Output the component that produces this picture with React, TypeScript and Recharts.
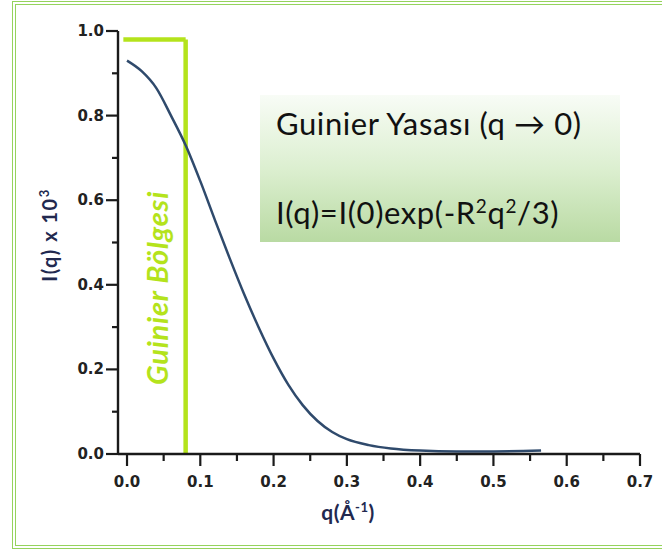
import { ComposedChart, Line, XAxis, YAxis, ReferenceLine } from "recharts";

// scattering curve I(q), read point by point
const Q_VALUES = [0, 0.02, 0.04, 0.06, 0.08, 0.1, 0.12, 0.14, 0.16, 0.18, 0.2, 0.22, 0.24, 0.26, 0.28, 0.3, 0.33, 0.36, 0.4, 0.45, 0.5, 0.565];
const I_VALUES = [0.93, 0.905, 0.865, 0.8, 0.73, 0.645, 0.553, 0.463, 0.377, 0.298, 0.226, 0.164, 0.115, 0.078, 0.052, 0.035, 0.021, 0.013, 0.008, 0.006, 0.006, 0.008];

const X_TICKS = [0, 0.05, 0.1, 0.15, 0.2, 0.25, 0.3, 0.35, 0.4, 0.45, 0.5, 0.55, 0.6, 0.65, 0.7];
const Y_TICKS = [0, 0.1, 0.2, 0.3, 0.4, 0.5, 0.6, 0.7, 0.8, 0.9, 1.0];

// Guinier region limits
const GUINIER_Q_MAX = 0.08;
const GUINIER_TOP = 0.98;
const GUINIER_Q_START = -0.005;

const data = Q_VALUES.map((q, i) => ({ q, I: I_VALUES[i] }));

const AXIS = "#1a1a1a";
const LIME = "#b4e31c";
const NAVY = "#22294f";

const isMajorY = (v: number) => Math.round(v * 100) % 20 === 0;
const isMajorX = (v: number) => Math.round(v * 100) % 10 === 0;

const XTick = (props: any) => {
  const { x, y, payload } = props;
  const major = isMajorX(payload.value);
  return (
    <g>
      <line x1={x} x2={x} y1={y} y2={y + (major ? 12 : 7)} stroke={AXIS} strokeWidth={2.2} />
      {major && (
        <text x={x} y={y + 33} textAnchor="middle" fontFamily="DejaVu Sans" fontWeight="bold" fontSize={15} fill="#222">
          {payload.value.toFixed(1)}
        </text>
      )}
    </g>
  );
};

const YTick = (props: any) => {
  const { x, y, payload } = props;
  const major = isMajorY(payload.value);
  return (
    <g>
      <line x1={x} x2={x - (major ? 12 : 6)} y1={y} y2={y} stroke={AXIS} strokeWidth={2.2} />
      {major && (
        <text x={x - 14} y={y + 5} textAnchor="end" fontFamily="DejaVu Sans" fontWeight="bold" fontSize={15} fill="#222">
          {payload.value.toFixed(1)}
        </text>
      )}
    </g>
  );
};

const supStyle = (size: number, shift: number) => ({ fontSize: size, verticalAlign: shift, lineHeight: 0 });

export default function App() {
  return (
    <div style={{ position: "absolute", left: 0, top: 0, width: 662, height: 551, background: "#fff", overflow: "hidden" }}>
      <div
        style={{
          position: "absolute",
          left: 12,
          top: 1,
          width: 690,
          height: 548,
          boxSizing: "border-box",
          border: "4px double #95d35c",
        }}
      />
      <ComposedChart width={662} height={551} data={data} margin={{ top: 31, right: 22, bottom: 37, left: 0 }}>
        <XAxis
          dataKey="q"
          type="number"
          domain={[-0.0123, 0.7]}
          ticks={X_TICKS}
          interval={0}
          tick={<XTick />}
          tickLine={false}
          tickSize={0}
          tickMargin={0}
          height={60}
          axisLine={{ stroke: AXIS, strokeWidth: 2.4 }}
        />
        <YAxis
          type="number"
          domain={[0, 1]}
          ticks={Y_TICKS}
          interval={0}
          tick={<YTick />}
          tickLine={false}
          tickSize={0}
          tickMargin={0}
          width={118}
          axisLine={{ stroke: AXIS, strokeWidth: 2.4 }}
        />
        <ReferenceLine
          segment={[
            { x: GUINIER_Q_START, y: GUINIER_TOP },
            { x: GUINIER_Q_MAX, y: GUINIER_TOP },
          ]}
          stroke={LIME}
          strokeWidth={4.5}
          ifOverflow="visible"
        />
        <ReferenceLine
          segment={[
            { x: GUINIER_Q_MAX, y: GUINIER_TOP },
            { x: GUINIER_Q_MAX, y: 0 },
          ]}
          stroke={LIME}
          strokeWidth={4.5}
          ifOverflow="visible"
        />
        <Line
          dataKey="I"
          type="monotone"
          stroke="#2f4a6c"
          strokeWidth={2.5}
          dot={false}
          isAnimationActive={false}
        />
      </ComposedChart>

      {/* Guinier law panel */}
      <div
        style={{
          position: "absolute",
          left: 260,
          top: 95,
          width: 360,
          height: 147,
          background: "linear-gradient(to bottom, #f8fcf6 0%, #dcefd0 50%, #b9daa3 100%)",
        }}
      />
      <div
        style={{
          position: "absolute",
          left: 276,
          top: 104,
          fontFamily: "Lato",
          fontSize: 31,
          letterSpacing: 0.6,
          color: "#111",
          whiteSpace: "nowrap",
        }}
      >
        Guinier Yasası (q → 0)
      </div>
      <div
        style={{
          position: "absolute",
          left: 276,
          top: 193,
          fontFamily: "Lato",
          fontSize: 31,
          letterSpacing: 0.6,
          color: "#111",
          whiteSpace: "nowrap",
        }}
      >
        I(q)=I(0)exp(-R<sup style={supStyle(19, 11)}>2</sup>q
        <sup style={supStyle(19, 11)}>2</sup>/3)
      </div>

      {/* region label */}
      <div
        style={{
          position: "absolute",
          left: 156,
          top: 288,
          transform: "translate(-50%, -50%) rotate(-90deg)",
          fontFamily: "Lato",
          fontWeight: "bold",
          fontStyle: "italic",
          fontSize: 29,
          letterSpacing: 0.8,
          color: LIME,
          whiteSpace: "nowrap",
        }}
      >
        Guinier Bölgesi
      </div>

      {/* axis titles */}
      <div
        style={{
          position: "absolute",
          left: 49,
          top: 235,
          transform: "translate(-50%, -50%) rotate(-90deg)",
          fontFamily: "Lato",
          fontWeight: "bold",
          fontSize: 20,
          letterSpacing: 1.5,
          color: NAVY,
          whiteSpace: "nowrap",
        }}
      >
        I(q) x 10<sup style={supStyle(13, 8)}>3</sup>
      </div>
      <div
        style={{
          position: "absolute",
          left: 348,
          top: 511,
          transform: "translate(-50%, -50%)",
          fontFamily: "Lato",
          fontWeight: "bold",
          fontSize: 21,
          letterSpacing: 0.5,
          color: NAVY,
          whiteSpace: "nowrap",
        }}
      >
        q(Å<sup style={supStyle(13, 8)}>-1</sup>)
      </div>
    </div>
  );
}
